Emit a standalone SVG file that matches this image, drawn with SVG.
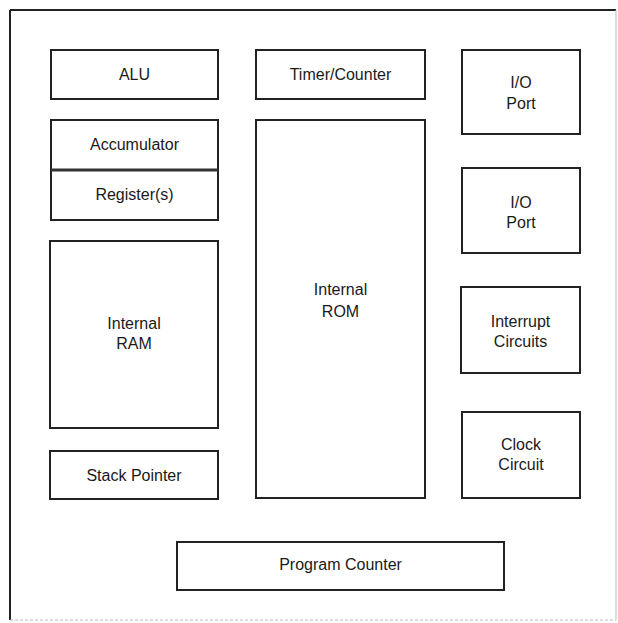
<svg xmlns="http://www.w3.org/2000/svg" width="618" height="623" viewBox="0 0 618 623">
<style>
.b{fill:#fff;stroke:#222;stroke-width:2}
.t{font-family:"Liberation Sans",Arial,sans-serif;font-size:16px;fill:#1a1a1a;text-anchor:middle}
</style>
<rect width="618" height="623" fill="#fff"/>
<g id="frame">
<line x1="10" y1="10" x2="616" y2="10" stroke="#222" stroke-width="2"/>
<line x1="10" y1="10" x2="10" y2="620" stroke="#222" stroke-width="2"/>
<line x1="616" y1="10" x2="616" y2="620" stroke="#bbb" stroke-width="1"/>
<line x1="10" y1="620" x2="616" y2="620" stroke="#bbb" stroke-width="1" stroke-dasharray="3 2"/>
</g>
<g id="alu"><rect class="b" x="51" y="50" width="167" height="49"/><text class="t" x="134.5" y="80">ALU</text></g>
<g id="accumulator"><rect class="b" x="51" y="120" width="167" height="50"/><text class="t" x="134.5" y="150">Accumulator</text></g>
<g id="registers"><rect class="b" x="51" y="170" width="167" height="50"/><text class="t" x="134.5" y="200">Register(s)</text></g>
<line x1="51" y1="170" x2="218" y2="170" stroke="#333" stroke-width="3"/>
<g id="ram"><rect class="b" x="50" y="241" width="168" height="187"/><text class="t" x="134" y="329">Internal</text><text class="t" x="134" y="349">RAM</text></g>
<g id="stack"><rect class="b" x="50" y="451" width="168" height="48"/><text class="t" x="134" y="481">Stack Pointer</text></g>
<g id="timer"><rect class="b" x="256" y="50" width="169" height="49"/><text class="t" x="340.5" y="80">Timer/Counter</text></g>
<g id="rom"><rect class="b" x="256" y="120" width="169" height="378"/><text class="t" x="340.5" y="295">Internal</text><text class="t" x="340.5" y="317">ROM</text></g>
<g id="io1"><rect class="b" x="462" y="50" width="118" height="84"/><text class="t" x="521" y="88">I/O</text><text class="t" x="521" y="109">Port</text></g>
<g id="io2"><rect class="b" x="462" y="168" width="118" height="85"/><text class="t" x="521" y="208">I/O</text><text class="t" x="521" y="228">Port</text></g>
<g id="interrupt"><rect class="b" x="461" y="287" width="119" height="86"/><text class="t" x="520.5" y="327">Interrupt</text><text class="t" x="520.5" y="347">Circuits</text></g>
<g id="clock"><rect class="b" x="462" y="412" width="118" height="86"/><text class="t" x="521" y="450">Clock</text><text class="t" x="521" y="470">Circuit</text></g>
<g id="pc"><rect class="b" x="177" y="542" width="327" height="48"/><text class="t" x="340.5" y="570">Program Counter</text></g>
<g id="connectors"></g>
</svg>
